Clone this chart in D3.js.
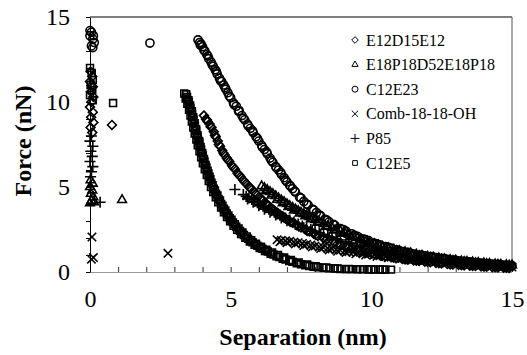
<!DOCTYPE html>
<html>
<head>
<meta charset="utf-8">
<script src="https://cdn.jsdelivr.net/npm/d3@7"></script>
<style>
  html, body { margin: 0; padding: 0; background: #fff; }
  svg text { font-family: "Liberation Serif", "Times New Roman", "DejaVu Serif", serif; }
</style>
</head>
<body>
<svg id="chart" width="527" height="355"></svg>
<script>
// values: [separation nm, force nN]
const c12e23 = [
  [0.05,14.1],[0.0,13.9],[0.1,13.7],[0.15,13.5],[0.05,13.3],[0.1,13.2],[0.0,14.2],[0.12,13.9],[2.13,13.47],
  [3.84,13.65],[3.9,13.5],[3.95,13.4],[4.0,13.25],[4.08,13.0],[4.15,12.8],[4.22,12.55],[4.3,12.35],[4.38,12.1],
  [4.45,11.9],[4.52,11.65],[4.6,11.4],[4.68,11.2],[4.75,11.0],[4.83,10.75],[4.9,10.55],[5.0,10.25],[5.1,9.95],
  [5.2,9.75],[5.3,9.5],[5.4,9.2],[5.5,8.95],[5.6,8.7],[5.7,8.45],[5.8,8.2],[5.9,7.95],[6.0,7.7],[6.1,7.45],
  [6.2,7.2],[6.3,6.95],[6.4,6.7],[6.5,6.45],[6.6,6.2],[6.7,6.0],[6.8,5.75],[6.9,5.55],[7.0,5.3],[7.1,5.1],
  [7.2,4.9],[7.3,4.7],[7.45,4.4],[7.6,4.15],[7.75,3.95],[7.9,3.7],[8.05,3.5],[8.2,3.3],[8.35,3.1],[8.5,2.95],
  [8.7,2.75],[8.9,2.55],[9.1,2.4],[9.3,2.25],[9.5,2.1],[9.7,1.95],[9.9,1.85],[10.1,1.7],[10.3,1.6],[10.5,1.5],
  [10.7,1.4],[10.9,1.3],[11.1,1.2],[11.3,1.15],[11.5,1.05],[11.7,1.0],[11.9,0.95],[12.1,0.9],[12.3,0.85],
  [12.5,0.8],[12.7,0.75],[12.9,0.7],[13.1,0.65],[13.3,0.62],[13.5,0.6],[13.7,0.55],[13.9,0.52],[14.1,0.5],
  [14.3,0.47],[14.5,0.45],[14.7,0.4],[14.9,0.38],
  [3.92,13.35],[4.05,13.05],[4.19,12.7],[4.34,12.2],[4.49,11.8],[4.64,11.25],[4.8,10.85],[4.95,10.35],
  [5.12,9.85],[5.28,9.45],[5.45,9.05],[5.62,8.6],[5.78,8.3],[5.95,7.85],[6.12,7.35],[6.28,7.05],[6.45,6.55],
  [6.62,6.15],[6.78,5.85],[6.95,5.4],[7.12,5.05],[7.28,4.75],[7.5,4.35],[7.7,4.0],[7.95,3.65],[8.15,3.35],
  [8.42,3.05],[8.65,2.8],[9.0,2.5],[9.4,2.15],[9.8,1.9],[10.2,1.65],[10.6,1.45],[11.0,1.25],[11.4,1.1],
  [11.8,0.98],[12.2,0.88],[12.6,0.78],[13.0,0.68],[13.4,0.6],[13.8,0.54],[14.2,0.48],[14.6,0.43],[15.0,0.37]
];

const e12d15e12 = [
  [0.02,11.8],[0.08,11.5],[0.0,11.2],[0.1,10.9],[0.03,10.6],[0.12,10.3],[0.05,10.0],[0.0,9.7],[0.1,9.4],
  [0.04,9.1],[0.12,8.8],[0.02,8.5],[0.08,8.2],[0.78,8.65],
  [4.05,9.2],[4.12,9.0],[4.18,8.85],[4.25,8.7],[4.32,8.5],[4.4,8.25],[4.47,7.95],[4.54,7.7],[4.62,7.4],
  [4.7,7.15],[4.78,6.9],[4.86,6.7],[4.95,6.5],[5.05,6.25],[5.15,6.05],[5.25,5.8],[5.35,5.6],[5.45,5.4],
  [5.55,5.2],[5.65,5.0],[5.75,4.85],[5.85,4.68],[5.95,4.52],[6.05,4.35],[6.15,4.2],[6.25,4.05],[6.35,3.9],
  [6.45,3.75],[6.55,3.62],[6.65,3.5],[6.75,3.38],[6.85,3.25],[6.95,3.15],[7.05,3.05],[7.2,2.9],[7.35,2.75],
  [7.5,2.62],[7.65,2.5],[7.8,2.38],[7.95,2.25],[8.1,2.12],[8.3,1.98],[8.5,1.85],[8.7,1.72],[8.9,1.6],
  [9.1,1.5],[9.3,1.4],[9.5,1.3],[9.7,1.22],[9.9,1.15],[10.1,1.07],[10.3,1.0],[10.5,0.93],[10.7,0.87],
  [10.9,0.82],[11.1,0.77],[11.3,0.72],[11.5,0.68],[11.7,0.65],[11.9,0.61],[12.1,0.57],[12.3,0.54],
  [12.5,0.5],[12.7,0.47],[12.9,0.44],[13.1,0.42],[13.3,0.39],[13.5,0.37],[13.7,0.35],[13.9,0.33],
  [14.1,0.31],[14.3,0.29],[14.5,0.27],[14.7,0.26],[14.9,0.24],
  [4.15,8.95],[4.29,8.55],[4.44,8.05],[4.58,7.5],[4.74,7.0],[4.9,6.6],[5.1,6.15],[5.3,5.7],[5.5,5.3],
  [5.7,4.95],[5.9,4.6],[6.1,4.25],[6.3,3.95],[6.5,3.68],[6.7,3.42],[6.9,3.2],[7.12,2.95],[7.42,2.68],
  [7.72,2.42],[8.02,2.18],[8.4,1.9],[8.8,1.65],[9.2,1.44],[9.6,1.26],[10.0,1.1],[10.4,0.96],[10.8,0.84],
  [11.2,0.74],[11.6,0.66],[12.0,0.59],[12.4,0.52],[12.8,0.45],[13.2,0.4],[13.6,0.36],[14.0,0.32],[14.4,0.28],[14.8,0.25]
];

const e18p18 = [
  [0.02,5.4],[0.1,5.2],[0.0,5.0],[0.08,4.8],[0.03,4.6],[0.12,4.4],[0.05,4.2],[0.0,4.05],[0.15,4.1],[1.14,4.24],
  [6.1,5.05],[6.2,4.95],[6.3,4.83],[6.4,4.71],[6.5,4.6],[6.6,4.47],[6.7,4.35],[6.8,4.23],[6.9,4.12],[7.0,4.0],
  [7.1,3.89],[7.2,3.79],[7.3,3.69],[7.4,3.6],[7.5,3.5],[7.6,3.42],[7.7,3.33],[7.8,3.24],[7.9,3.15],[8.0,3.06],
  [8.15,2.95],[8.3,2.83],[8.45,2.71],[8.6,2.6],[8.75,2.5],[8.9,2.4],[9.05,2.3],[9.2,2.2],[9.35,2.1],[9.5,2.0],
  [9.65,1.91],[9.8,1.82],[9.95,1.73],[10.1,1.65],[10.25,1.57],[10.4,1.49],[10.6,1.41],[10.8,1.33],[11.0,1.25],
  [11.2,1.18],[11.4,1.11],[11.6,1.04],[11.8,0.97],[12.0,0.91],[12.2,0.86],[12.4,0.81],[12.6,0.76],[12.8,0.72],
  [13.0,0.68],[13.2,0.64],[13.4,0.61],[13.6,0.58],[13.8,0.55],[14.0,0.52],[14.2,0.49],[14.4,0.46],[14.6,0.44],
  [14.8,0.42],[15.0,0.4],
  [6.25,4.75],[6.45,4.5],[6.65,4.25],[6.85,4.05],[7.05,3.82],[7.25,3.62],[7.45,3.45],[7.65,3.28],[7.85,3.1],
  [8.08,2.9],[8.38,2.66],[8.68,2.45],[8.98,2.25],[9.28,2.05],[9.58,1.87],[9.88,1.7],[10.18,1.55],[10.5,1.4],
  [10.9,1.24],[11.3,1.08],[11.7,0.95],[12.1,0.84],[12.5,0.74],[12.9,0.66],[13.3,0.59],[13.7,0.53],[14.1,0.48],[14.5,0.43],[14.9,0.39]
];

const comb181818 = [
  [0.07,2.06],[0.05,0.75],[0.12,0.85],[2.77,1.1],
  [6.65,1.9],[6.8,1.86],[6.95,1.83],[7.1,1.8],[7.25,1.76],[7.4,1.72],[7.55,1.68],[7.7,1.63],[7.85,1.58],
  [8.0,1.53],[8.15,1.48],[8.3,1.44],[8.45,1.4],[8.6,1.36],[8.75,1.32],[8.9,1.28],[9.05,1.24],[9.2,1.2],
  [9.35,1.17],[9.5,1.14],[9.7,1.1],[9.9,1.05],[10.1,1.0],[10.3,0.96],[10.5,0.91],[10.7,0.87],[10.9,0.84],
  [11.1,0.8],[11.3,0.77],[11.5,0.74],[11.7,0.71],[11.9,0.68],[12.1,0.65],[12.3,0.61],[12.5,0.58],[12.7,0.55],
  [12.9,0.52],[13.1,0.49],[13.3,0.47],[13.5,0.44],[13.7,0.42],[13.9,0.4],[14.1,0.38],[14.3,0.36],[14.5,0.34],
  [14.7,0.32],[14.9,0.3],
  [6.75,1.78],[7.0,1.72],[7.3,1.65],[7.6,1.56],[7.9,1.47],[8.2,1.38],[8.5,1.3],[8.8,1.22],[9.1,1.15],
  [9.45,1.07],[9.8,1.0],[10.2,0.92],[10.6,0.84],[11.0,0.77],[11.4,0.71],[11.8,0.65],[12.2,0.6],[12.6,0.54],
  [13.0,0.49],[13.4,0.45],[13.8,0.41],[14.2,0.37],[14.6,0.33],[15.0,0.29]
];

const p85 = [
  [0.05,8.0],[0.0,7.7],[0.1,7.4],[0.03,7.1],[0.08,6.8],[0.0,6.5],[0.1,6.2],[0.05,5.9],[0.02,5.6],[0.36,4.1],
  [5.15,4.85],
  [5.45,4.55],[5.55,4.45],[5.65,4.36],[5.75,4.27],[5.85,4.17],[5.95,4.07],[6.05,3.97],[6.15,3.87],[6.25,3.78],
  [6.35,3.69],[6.45,3.6],[6.55,3.51],[6.65,3.42],[6.75,3.34],[6.85,3.26],[6.95,3.18],[7.1,3.06],[7.25,2.94],
  [7.4,2.82],[7.55,2.71],[7.7,2.6],[7.85,2.5],[8.0,2.4],[8.15,2.3],[8.3,2.21],[8.45,2.12],[8.6,2.04],
  [8.75,1.96],[8.9,1.88],[9.1,1.78],[9.3,1.68],[9.5,1.58],[9.7,1.49],[9.9,1.41],[10.1,1.33],[10.3,1.26],
  [10.5,1.19],[10.7,1.12],[10.9,1.06],[11.1,1.0],[11.3,0.94],[11.5,0.89],[11.7,0.84],[11.9,0.79],[12.1,0.74],
  [12.3,0.7],[12.5,0.66],[12.7,0.62],[12.9,0.58],[13.1,0.55],[13.3,0.51],[13.5,0.48],[13.7,0.45],[13.9,0.42],
  [14.1,0.39],[14.3,0.36],[14.5,0.34],[14.7,0.32],[14.9,0.3],
  [5.6,4.3],[5.8,4.1],[6.0,3.9],[6.2,3.7],[6.4,3.52],[6.6,3.35],[6.8,3.18],[7.0,3.02],[7.3,2.8],[7.6,2.6],
  [7.9,2.4],[8.2,2.22],[8.5,2.05],[8.8,1.9],[9.2,1.7],[9.6,1.52],[10.0,1.36],[10.4,1.22],[10.8,1.08],
  [11.2,0.96],[11.6,0.86],[12.0,0.76],[12.4,0.68],[12.8,0.6],[13.2,0.53],[13.6,0.47],[14.0,0.41],[14.4,0.36],[14.8,0.31]
];

const c12e5 = [
  [0.0,12.0],[0.06,11.7],[0.1,11.3],[0.02,11.0],[0.08,10.7],[0.0,10.4],[0.1,10.1],[0.82,9.94],
  [3.35,10.5],[3.42,10.45],[3.4,10.2],[3.5,10.1],[3.46,9.9],[3.56,9.8],[3.52,9.55],[3.62,9.45],[3.57,9.2],
  [3.67,9.1],[3.62,8.85],[3.72,8.75],[3.67,8.5],[3.77,8.4],[3.72,8.15],[3.82,8.05],[3.78,7.8],[3.88,7.7],
  [3.83,7.45],[3.93,7.35],[3.89,7.1],[3.99,7.0],[3.95,6.75],[4.05,6.65],[4.01,6.4],[4.11,6.3],[4.08,6.05],
  [4.18,5.95],[4.15,5.7],[4.25,5.6],[4.22,5.35],[4.32,5.25],[4.3,5.0],[4.4,4.9],[4.38,4.7],[4.48,4.6],
  [4.47,4.4],[4.57,4.3],[4.56,4.1],[4.66,4.0],[4.66,3.8],[4.76,3.72],[4.76,3.52],[4.86,3.44],[4.87,3.24],
  [4.97,3.17],[4.98,2.98],[5.08,2.92],[5.1,2.72],[5.2,2.66],[5.23,2.48],[5.33,2.42],[5.37,2.24],[5.47,2.18],
  [5.52,2.01],[5.62,1.96],[5.68,1.8],[5.78,1.75],[5.85,1.6],[5.95,1.55],[6.03,1.41],[6.13,1.37],[6.22,1.23],
  [6.32,1.2],[6.42,1.07],[6.52,1.03],[6.63,0.92],[6.73,0.88],[6.85,0.78],[6.95,0.74],[7.08,0.65],[7.2,0.6],
  [7.35,0.52],[7.5,0.45],[7.65,0.4],[7.8,0.35],[7.95,0.31],[8.1,0.28],[8.3,0.25],[8.5,0.22],[8.7,0.2],
  [8.9,0.18],[9.1,0.17],[9.3,0.17],[9.5,0.16],[9.7,0.16],[9.9,0.15],[10.1,0.15],[10.3,0.15],[10.5,0.14],[10.7,0.14],
  [3.45,10.3],[3.51,10.0],[3.57,9.65],[3.63,9.3],[3.68,8.95],[3.73,8.6],[3.78,8.3],[3.83,7.95],[3.89,7.6],
  [3.95,7.2],[4.01,6.85],[4.07,6.5],[4.14,6.15],[4.21,5.8],[4.28,5.45],[4.36,5.1],[4.44,4.8],[4.53,4.5],
  [4.62,4.2],[4.71,3.9],[4.81,3.62],[4.92,3.33],[5.03,3.07],[5.15,2.81],[5.28,2.56],[5.42,2.32],[5.57,2.09],
  [5.73,1.87],[5.9,1.67],[6.08,1.49],[6.27,1.31],[6.47,1.15],[6.68,1.0],[6.9,0.85],[7.14,0.7],[7.42,0.56],
  [7.72,0.44],[8.02,0.34],[8.4,0.26],[8.8,0.21],[9.2,0.18],[9.6,0.17],[10.0,0.16],[10.4,0.15]
];

const seriesNames = ['E12D15E12', 'E18P18D52E18P18', 'C12E23', 'Comb-18-18-OH', 'P85', 'C12E5'];
const xTicks = [0, 5, 10, 15];
const yTicks = [0, 5, 10, 15];

const svg = d3.select('#chart');
const plot = { left: 90, right: 512, top: 17, bottom: 272 };
const serif = '"Liberation Serif", "Times New Roman", "DejaVu Serif", serif';

const x = d3.scaleLinear().domain([0, 15]).range([plot.left, plot.right]);
const y = d3.scaleLinear().domain([0, 15]).range([plot.bottom, plot.top]);

const series = [
  { name: seriesNames[5], data: c12e5, symbol: d3.symbolSquare2, size: 60 },
  { name: seriesNames[3], data: comb181818, symbol: d3.symbolX, size: 48 },
  { name: seriesNames[4], data: p85, symbol: d3.symbolPlus, size: 42 },
  { name: seriesNames[1], data: e18p18, symbol: d3.symbolTriangle2, size: 54 },
  { name: seriesNames[0], data: e12d15e12, symbol: d3.symbolDiamond2, size: 50 },
  { name: seriesNames[2], data: c12e23, symbol: d3.symbolCircle, size: 52 }
];

// frame: top and right edges
svg.append('line').attr('x1', plot.left).attr('x2', plot.right).attr('y1', plot.top).attr('y2', plot.top)
  .attr('stroke', '#000').attr('stroke-width', 1);
svg.append('line').attr('x1', plot.right).attr('x2', plot.right).attr('y1', plot.top).attr('y2', plot.bottom)
  .attr('stroke', '#555').attr('stroke-width', 1);

// x axis, ticks pointing up, dotted base line
const xAxis = svg.append('g').attr('transform', `translate(0,${plot.bottom})`)
  .call(d3.axisBottom(x).tickValues(d3.range(0, 16)).tickSizeInner(-5).tickSizeOuter(0).tickPadding(18)
    .tickFormat(d => xTicks.includes(d) ? d : ''));
xAxis.attr('font-family', serif);
xAxis.select('.domain').attr('stroke', '#333').attr('stroke-dasharray', '1,1');
xAxis.selectAll('.tick line').attr('stroke', '#333');
xAxis.selectAll('text').attr('font-size', 24).attr('fill', '#000');

// y axis
const yAxis = svg.append('g').attr('transform', `translate(${plot.left},0)`)
  .call(d3.axisLeft(y).tickValues(d3.range(0, 16)).tickSizeInner(4).tickSizeOuter(0).tickPadding(16)
    .tickFormat(d => yTicks.includes(d) ? d : ''));
yAxis.attr('font-family', serif);
yAxis.select('.domain').attr('stroke', '#000');
yAxis.selectAll('.tick line').attr('stroke', '#000');
yAxis.selectAll('text').attr('font-size', 24).attr('fill', '#000');

// markers
series.forEach(s => {
  svg.append('g').selectAll('path')
    .data(s.data)
    .enter()
    .append('path')
    .attr('transform', d => `translate(${x(d[0])},${y(d[1])})`)
    .attr('d', d3.symbol().type(s.symbol).size(s.size))
    .attr('fill', 'none')
    .attr('stroke', '#000')
    .attr('stroke-width', 1.6);
});

// legend
const legendOrder = [
  { name: seriesNames[0], symbol: d3.symbolDiamond2 },
  { name: seriesNames[1], symbol: d3.symbolTriangle2 },
  { name: seriesNames[2], symbol: d3.symbolCircle },
  { name: seriesNames[3], symbol: d3.symbolX },
  { name: seriesNames[4], symbol: d3.symbolPlus },
  { name: seriesNames[5], symbol: d3.symbolSquare2 }
];
const legend = svg.append('g').attr('transform', 'translate(355,40)').attr('font-family', serif);
legendOrder.forEach((item, i) => {
  const row = legend.append('g').attr('transform', `translate(0,${i * 24.6})`);
  row.append('path')
    .attr('d', d3.symbol().type(item.symbol).size(28))
    .attr('fill', 'none').attr('stroke', '#000').attr('stroke-width', 1);
  row.append('text')
    .attr('x', 11).attr('y', 5.5)
    .attr('font-size', 16)
    .text(item.name);
});

// axis titles
svg.append('text')
  .attr('x', 303).attr('y', 345)
  .attr('text-anchor', 'middle')
  .attr('font-family', serif)
  .attr('font-size', 24).attr('font-weight', 'bold')
  .text('Separation (nm)');

svg.append('text')
  .attr('transform', 'translate(31,141) rotate(-90)')
  .attr('text-anchor', 'middle')
  .attr('font-family', serif)
  .attr('font-size', 24).attr('font-weight', 'bold')
  .text('Force (nN)');
</script>
</body>
</html>
